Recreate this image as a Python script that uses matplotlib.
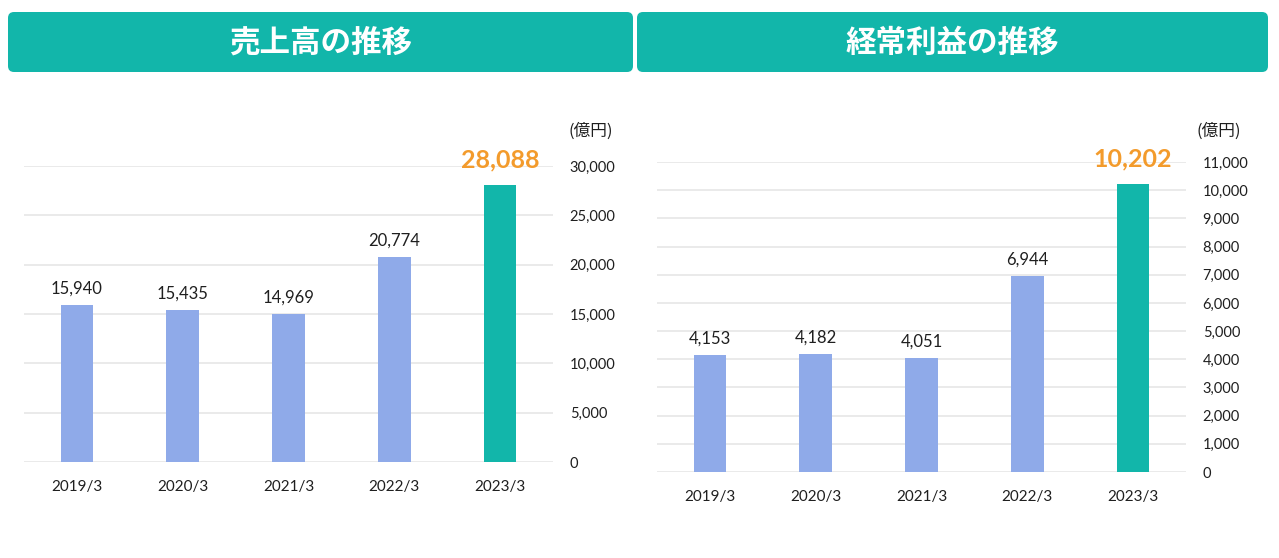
import matplotlib
matplotlib.use("Agg")
import matplotlib.pyplot as plt
from matplotlib.patches import FancyBboxPatch
from matplotlib.ticker import FuncFormatter

plt.rcParams['font.family'] = ['Lato', 'Noto Sans CJK JP', 'DejaVu Sans']

categories = ["2019/3", "2020/3", "2021/3", "2022/3", "2023/3"]
sales = [15940, 15435, 14969, 20774, 28088]
profit = [4153, 4182, 4051, 6944, 10202]
sales_ticks = [0, 5000, 10000, 15000, 20000, 25000, 30000]
profit_ticks = list(range(0, 11001, 1000))
titles = ["売上高の推移", "経常利益の推移"]
unit = "(億円)"

BLUE = "#8FAAE9"
TEAL = "#12B6AA"
ORANGE = "#F39B2C"
GRID = "#E6E6E6"
TXT = "#1F1F1F"
JP = ['Noto Sans CJK JP', 'DejaVu Sans']

W, H = 1279, 558
fig = plt.figure(figsize=(W / 100, H / 100), dpi=100)

# overlay for banners
ov = fig.add_axes([0, 0, 1, 1])
ov.set_xlim(0, W)
ov.set_ylim(H, 0)
ov.axis('off')
for (x0, x1), t in zip([(8, 633), (637, 1268)], titles):
    ov.add_patch(FancyBboxPatch((x0, 12), x1 - x0, 60,
                                boxstyle="round,pad=0,rounding_size=6",
                                fc=TEAL, ec="none"))
    ov.text((x0 + x1) / 2, 43, t, color="white", fontsize=22, fontweight='bold',
            ha='center', va='center', family=JP)


def make(rect, vals, ticks, ymax, unit_xy):
    ax = fig.add_axes(rect)
    x = list(range(len(categories)))
    colors = [BLUE] * (len(vals) - 1) + [TEAL]
    ax.bar(x, vals, width=0.31, color=colors, zorder=3)
    ax.set_xlim(-0.5, len(vals) - 0.5)
    ax.set_ylim(0, ymax)
    ax.set_yticks(ticks)
    ax.yaxis.set_major_formatter(FuncFormatter(lambda v, p: f"{int(v):,}"))
    ax.yaxis.tick_right()
    ax.tick_params(axis='y', length=0, pad=12, labelsize=10.5, labelcolor=TXT)
    for lab in ax.get_yticklabels():
        lab.set_ha('left')
    ax.set_xticks(x)
    ax.set_xticklabels(categories)
    ax.tick_params(axis='x', length=0, pad=13, labelsize=11, labelcolor=TXT)
    ax.grid(axis='y', color=GRID, lw=1.2, zorder=0)
    for s in ax.spines.values():
        s.set_visible(False)
    for i, v in enumerate(vals):
        if i == len(vals) - 1:
            ax.annotate(f"{v:,}", (i, v), xytext=(0, 10), textcoords='offset points',
                        ha='center', va='bottom', color=ORANGE, fontsize=18,
                        fontweight='bold')
        else:
            ax.annotate(f"{v:,}", (i, v), xytext=(0, 6), textcoords='offset points',
                        ha='center', va='bottom', color=TXT, fontsize=12)
    ov.text(unit_xy[0], unit_xy[1], unit, fontsize=12, color=TXT, ha='left',
            va='center', family=JP)
    return ax


make([24 / W, (H - 462) / H, (553 - 24) / W, (462 - 166) / H], sales, sales_ticks, 30000, (568, 131))
make([657 / W, (H - 472) / H, (1186 - 657) / W, (472 - 162) / H], profit, profit_ticks, 11000, (1196, 131))

fig.savefig("out.png", dpi=100)
